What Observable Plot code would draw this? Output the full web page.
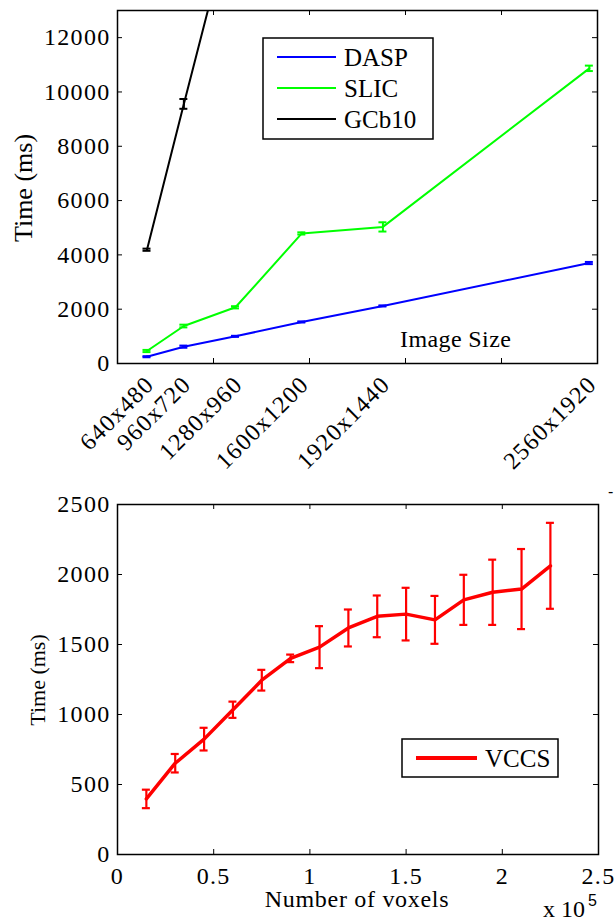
<!DOCTYPE html>
<html><head><meta charset="utf-8">
<script src="https://cdn.jsdelivr.net/npm/d3@7"></script>
<script src="https://cdn.jsdelivr.net/npm/@observablehq/plot@0.6"></script>
<style>
body{margin:0;background:#fff;}
#c{position:relative;width:614px;height:922px;font-family:"Liberation Serif",serif;}
#c svg{position:absolute;left:0;overflow:visible;font-family:"Liberation Serif",serif !important;}
#c svg text{font-family:"Liberation Serif",serif;}
#c svg text.sans{font-family:"Liberation Sans",sans-serif;}
g[aria-label$="tick label"] text{letter-spacing:1.3px;}
</style></head><body><div id="c"></div>
<script>
// ---------- top chart data ----------
const sizeLabels = ["640x480","960x720","1280x960","1600x1200","1920x1440","2560x1920"];
const sizePixels = [307200, 691200, 1228800, 1920000, 2764800, 4915200];
const daspTime = [250, 620, 1000, 1530, 2120, 3700];
const daspErr  = [20, 40, 20, 20, 20, 40];
const slicTime = [460, 1380, 2070, 4790, 5030, 10870];
const slicErr  = [40, 50, 40, 40, 170, 100];
const gcbTime  = [4190, 9560, 16950];
const gcbErr   = [40, 180, 0];
const topYTicks = [0, 2000, 4000, 6000, 8000, 10000, 12000];
const topXTicks = [0, 1e6, 2e6, 3e6, 4e6, 5e6];

// ---------- bottom chart data ----------
const voxels   = [15000, 30000, 45000, 60000, 75000, 90000, 105000, 120000, 135000, 150000, 165000, 180000, 195000, 210000, 225000];
const vccsTime = [397, 652, 824, 1034, 1245, 1401, 1481, 1618, 1701, 1717, 1676, 1819, 1873, 1896, 2062];
const vccsErr  = [66, 66, 81, 58, 74, 27, 150, 132, 149, 188, 171, 179, 233, 286, 307];
const botYTicks = [0, 500, 1000, 1500, 2000, 2500];
const botXTicks = [0, 50000, 100000, 150000, 200000, 250000];
const botXLabels = ["0", "0.5", "1", "1.5", "2", "2.5"];

const series = (name, xs, ys, es) => xs.slice(0, ys.length).map((x, i) => ({name, x, t: ys[i], e: es[i]}));
const dasp = series("DASP", sizePixels, daspTime, daspErr);
const slic = series("SLIC", sizePixels, slicTime, slicErr);
const gcb  = series("GCb10", sizePixels, gcbTime, gcbErr);
const vccs = series("VCCS", voxels, vccsTime, vccsErr);

const colors = {DASP: "#0000ff", SLIC: "#00ff00", GCb10: "#000000", VCCS: "#ff0000"};
const FONT = "Liberation Serif";

function errMarks(data, color, sw, cap) {
  const d = data.filter(r => r.e > 0);
  return [
    Plot.ruleX(d, {x: "x", y1: r => r.t - r.e, y2: r => r.t + r.e, stroke: color, strokeWidth: sw, clip: true}),
    Plot.ruleY(d, {y: r => r.t - r.e, x1: "x", x2: "x", insetLeft: -cap, insetRight: -cap, stroke: color, strokeWidth: sw, clip: true}),
    Plot.ruleY(d, {y: r => r.t + r.e, x1: "x", x2: "x", insetLeft: -cap, insetRight: -cap, stroke: color, strokeWidth: sw, clip: true})
  ];
}
function frameTicks(xt, yt, fw, fh, len) {
  return [
    Plot.tickX(xt, {x: d => d, insetTop: fh - len, stroke: "black"}),
    Plot.tickX(xt, {x: d => d, insetBottom: fh - len, stroke: "black"}),
    Plot.tickY(yt, {y: d => d, insetRight: fw - len, stroke: "black"}),
    Plot.tickY(yt, {y: d => d, insetLeft: fw - len, stroke: "black"})
  ];
}

const c = document.getElementById("c");

// ---------- top plot ----------
const T = {w: 614, h: 470, mt: 10, mb: 107, ml: 117, mr: 17};
const topPlot = Plot.plot({
  width: T.w, height: T.h,
  marginTop: T.mt, marginBottom: T.mb, marginLeft: T.ml, marginRight: T.mr,
  style: {fontFamily: FONT, fontSize: "24px", background: "white", color: "black", overflow: "visible"},
  x: {domain: [0, 5e6]},
  y: {domain: [0, 13000]},
  marks: [
    ...frameTicks(topXTicks, topYTicks, T.w - T.ml - T.mr, T.h - T.mt - T.mb, 5),
    Plot.line(dasp, {x: "x", y: "t", stroke: colors.DASP, strokeWidth: 2, clip: true}),
    Plot.line(slic, {x: "x", y: "t", stroke: colors.SLIC, strokeWidth: 2, clip: true}),
    Plot.line(gcb, {x: "x", y: "t", stroke: colors.GCb10, strokeWidth: 2, clip: true}),
    ...errMarks(dasp, colors.DASP, 2, 4),
    ...errMarks(slic, colors.SLIC, 2, 4),
    ...errMarks(gcb, colors.GCb10, 2, 4),
    Plot.frame({stroke: "black", strokeWidth: 1.5}),
    Plot.axisY(topYTicks, {tickSize: 0, tickPadding: 7, fontSize: 24, fontFamily: FONT, label: null, tickFormat: d => String(d)}),
    Plot.axisX(sizePixels, {tickSize: 0, tickPadding: 12, tickRotate: -45, dx: 3, dy: 5, fontSize: 24, fontFamily: FONT, label: null,
      tickFormat: d => sizeLabels[sizePixels.indexOf(d)]})
  ]
});
topPlot.style.top = "0px";
c.appendChild(topPlot);

// ---------- bottom plot ----------
const B = {w: 614, h: 452, mt: 34, mb: 68, ml: 117, mr: 16};
const botPlot = Plot.plot({
  width: B.w, height: B.h,
  marginTop: B.mt, marginBottom: B.mb, marginLeft: B.ml, marginRight: B.mr,
  style: {fontFamily: FONT, fontSize: "24px", background: "white", color: "black", overflow: "visible"},
  x: {domain: [0, 250000]},
  y: {domain: [0, 2500]},
  marks: [
    ...frameTicks(botXTicks, botYTicks, B.w - B.ml - B.mr, B.h - B.mt - B.mb, 5),
    Plot.line(vccs, {x: "x", y: "t", stroke: colors.VCCS, strokeWidth: 3.5}),
    ...errMarks(vccs, colors.VCCS, 2.2, 4),
    Plot.frame({stroke: "black", strokeWidth: 1.5}),
    Plot.axisY(botYTicks, {tickSize: 0, tickPadding: 7, fontSize: 24, fontFamily: FONT, label: null, tickFormat: d => String(d)}),
    Plot.axisX(botXTicks, {tickSize: 0, tickPadding: 12, fontSize: 24, fontFamily: FONT, label: null,
      tickFormat: d => botXLabels[botXTicks.indexOf(d)]})
  ]
});
botPlot.style.top = "470px";
c.appendChild(botPlot);

// ---------- labels & legends ----------
function addText(svg, x, y, str, opts = {}) {
  const t = d3.select(svg).append("text").attr("x", x).attr("y", y).text(str)
    .attr("font-size", opts.size || 24)
    .attr("fill", "black").attr("text-anchor", opts.anchor || "start");
  if (opts.sans) t.attr("class", "sans");
  if (opts.rotate) t.attr("transform", `rotate(${opts.rotate},${x},${y})`);
  if (opts.ls) t.attr("letter-spacing", opts.ls);
  return t;
}
function legend(svg, x0, y0, w, h, items, lw, lineW) {
  const g = d3.select(svg).append("g");
  g.append("rect").attr("x", x0).attr("y", y0).attr("width", w).attr("height", h)
    .attr("fill", "white").attr("stroke", "black").attr("stroke-width", 1.5);
  items.forEach(it => {
    g.append("line").attr("x1", x0 + 14).attr("x2", x0 + 14 + lw).attr("y1", it.y).attr("y2", it.y)
      .attr("stroke", colors[it.name]).attr("stroke-width", lineW);
    addText(svg, x0 + 22 + lw, it.y + 9, it.name, {size: 25});
  });
}
legend(topPlot, 263, 38, 170, 101, [{name: "DASP", y: 57}, {name: "SLIC", y: 88}, {name: "GCb10", y: 119}], 59, 2);
addText(topPlot, 400, 347, "Image Size", {size: 24, ls: 0.4});
addText(topPlot, 32, 188, "Time (ms)", {size: 26, anchor: "middle", rotate: -90});

legend(botPlot, 402, 269, 156, 38, [{name: "VCCS", y: 288}], 61, 4);
addText(botPlot, 45, 210, "Time (ms)", {size: 22, anchor: "middle", rotate: -90});
addText(botPlot, 357, 437, "Number of voxels", {size: 24, anchor: "middle", ls: 0.7});
addText(botPlot, 543, 447, "x 10", {size: 24});
addText(botPlot, 588, 436, "5", {size: 16, sans: true});
addText(botPlot, 608, 27, "-", {size: 16, sans: true});
</script></body></html>
